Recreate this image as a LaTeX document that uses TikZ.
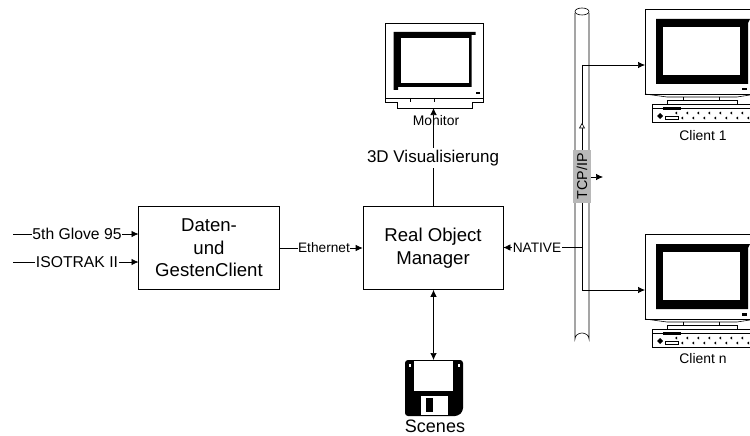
\documentclass[tikz,border=0pt]{standalone}
\usepackage{fontspec}
\setmainfont{Liberation Sans}
\usetikzlibrary{arrows.meta}
\tikzset{
  boxnode/.style={draw=black,line width=.7pt,inner sep=0pt,align=center,font=\fontsize{18.6}{22.5}\selectfont,fill=white},
  conn/.style={draw=black,line width=.7pt},
  arr/.style={conn,-{Latex[length=7pt,width=6.5pt]}},
  lab/.style={fill=white,inner sep=.6pt,font=\fontsize{15.7}{18}\selectfont},
  smalllab/.style={fill=white,inner sep=.6pt,font=\fontsize{13.7}{15}\selectfont},
  caplab/.style={inner sep=0pt,font=\fontsize{13.9}{15}\selectfont},
  thinline/.style={draw=black,line width=.6pt},
}
\newcommand{\crtscreen}[2]{%
  \begin{scope}[shift={(#1,#2)}]
    \draw[thinline,fill=white] (750,9) -- (645,9) -- (645,94) -- (750,94);
    \fill[black] (656,19) -- (750,19) -- (748,23) -- (748,84) -- (656,84) -- cycle;
    \fill[white] (663,27) rectangle (740,75);
    \fill[black] (742,88) rectangle (747,90.5);
    \draw[thinline] (645,94) -- (667,97) -- (737,97) -- (750,95);
    \draw[thinline] (683,97) -- (683,100) (719,97) -- (719,100);
    \draw[thinline,fill=white] (667,104) -- (667,100) -- (737,100) -- (737,104);
    \draw[thinline,fill=white] (750,104) -- (652,104) -- (652,122) -- (750,122);
    \draw[thinline] (652,108) -- (750,108);
    \fill[black] (663,107) rectangle (681,110);
    \fill[black] (657,116) -- (660,113) -- (663,116) -- (660,119) -- cycle;
    \draw[thinline,fill=white] (665,116) rectangle (678,119);
    \foreach \kx in {675,686,697,708,719,730,741} {
      \fill[black] (\kx,113) -- (\kx+2,111.5) -- (\kx+2,114.5) -- cycle;
    }
    \foreach \kx in {681,692,703,714,725,736,747} {
      \fill[black] (\kx,118) -- (\kx+2,116.5) -- (\kx+2,119.5) -- cycle;
    }
  \end{scope}
}
\begin{document}
\begin{tikzpicture}[x=1pt,y=-1pt]
\useasboundingbox (0,0) rectangle (750,436);
% pipe
\draw[thinline,fill=white] (575,13) -- (575,339) arc[start angle=180,end angle=360,x radius=7,y radius=6] -- (589,13);
\draw[thinline,fill=white] (582,11.5) ellipse[x radius=7,y radius=3.5];
% monitor
\draw[thinline,fill=white] (385,23) rectangle (483,102);
\draw[thinline] (385,98) -- (483,98);
\draw[thinline] (410,98) -- (410,102) (434,98) -- (434,102);
\draw[thinline,fill=white] (397,102) -- (397,108) -- (472,108) -- (472,102);
\fill[black] (393.5,32) -- (475.5,32) -- (475.5,35) -- (471.5,35) -- (471.5,87) -- (398,87) -- (398,90) -- (393.5,90) -- cycle;
\fill[white] (401,38) rectangle (469,83);
\fill[black] (476,92) rectangle (480,94);
\coordinate (monin) at (433.5,108);
% clients
\crtscreen{0}{0}
\crtscreen{0}{225}
\coordinate (c1in) at (645,65);
\coordinate (cnin) at (645,290);
\node[caplab] (c1lab) at (703,136) {Client 1};
\node[caplab] (cnlab) at (703,359) {Client n};
% floppy
\fill[black,rounded corners=3pt] (405,360) -- (463,360) -- (463,411) -- (458,416) -- (405,416) -- cycle;
\fill[white] (414,360.5) rectangle (453,391);
\fill[white] (421,396) rectangle (448,415);
\fill[black] (426,398) rectangle (433,412);
\fill[white] (408.5,364) rectangle (410.5,367);
\fill[white] (458,364) rectangle (460,367);
\node[inner sep=0pt,font=\fontsize{18}{20}\selectfont] (sclab) at (435,426.5) {Scenes};
\coordinate (flop) at (433.5,360);
% boxes
\node[boxnode,minimum width=140.5pt,minimum height=83pt] (dg) at (209,248) {Daten-\\und\\GestenClient};
\node[boxnode,minimum width=140pt,minimum height=83pt] (rom) at (433,248) {Real Object\\Manager};
% left inputs
\coordinate (g0) at (13,234);
\coordinate (g1) at (138.5,234);
\coordinate (i0) at (13,262);
\coordinate (i1) at (138.5,262);
\draw[arr] (g0) -- (g1);
\draw[arr] (i0) -- (i1);
\node[lab] (gl) at (77,234) {5th Glove 95};
\node[lab] (il) at (77,262) {ISOTRAK II};
% ethernet
\draw[arr] (dg.east) -- (rom.west);
\node[smalllab] (eth) at (324,247.5) {Ethernet};
% 3D
\draw[arr] (rom.north -| monin) -- (monin);
\node[caplab] (monlab) at (436,121) {Monitor};
\node[lab,inner ysep=2pt,font=\fontsize{17}{19}\selectfont] (vis) at (433,158) {3D Visualisierung};
% scenes
\draw[conn,{Latex[length=7pt,width=6.5pt]}-{Latex[length=7pt,width=6.5pt]}] (rom.south -| flop) -- (flop);
% bus
\coordinate (na) at (582,247.5);
\coordinate (t1) at (582,65);
\coordinate (t2) at (582,290);
\coordinate (ns) at (567,247.5);
\draw[arr] (ns) -- (rom.east |- ns);
\node[smalllab] (nat) at (537,247.5) {NATIVE};
\draw[conn] (ns) -- (na);
\draw[arr] (t2) -- (cnin);
\draw[arr] (t1) -- (c1in);
\draw[conn] (t1) -- (t2);
\draw[thinline,fill=white] (579.5,128) -- (582,123.5) -- (584.5,128) -- cycle;
% tcp
\node[fill=black!28,minimum width=18pt,minimum height=53pt,inner sep=0pt] (tcp) at (582,176.5) {};
\node[rotate=90,inner sep=0pt,font=\fontsize{14.3}{16}\selectfont] (tcpt) at (582,176.5) {TCP/IP};
\coordinate (tcpo) at (603,177);
\draw[arr] (tcp.east |- tcpo) -- (tcpo);
\end{tikzpicture}
\end{document}
